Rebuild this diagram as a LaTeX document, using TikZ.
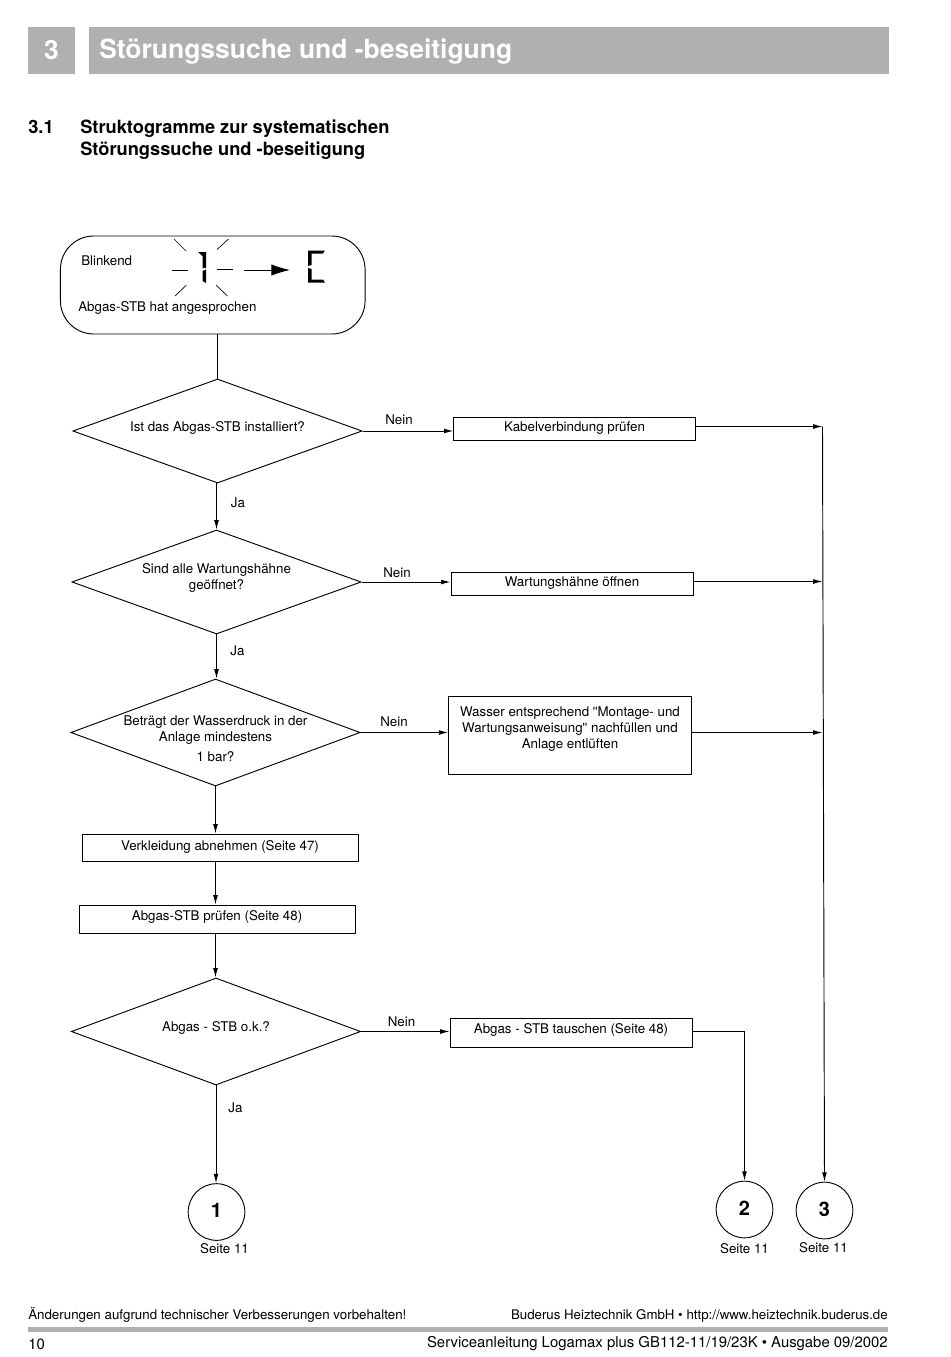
\documentclass[tikz,border=0pt]{standalone}
\usepackage{fontspec}
\setmainfont{TeX Gyre Heros}
\newfontfamily\geradefont{Liberation Sans}
\newcommand{\geradequote}{{\geradefont\symbol{34}}}
\usetikzlibrary{arrows.meta}
\usetikzlibrary{shapes.geometric}
\tikzset{>={Latex[length=7pt,width=3.6pt]}}
\definecolor{headgrey}{HTML}{B0B0B0}
\tikzset{
  flowline/.style={->, draw=black, line width=0.7pt},
  senk/.style={text height=2*#1, text depth=0pt},
  txt/.style={inner sep=0pt, font=\fontsize{10}{12}\selectfont, align=center},
  txtl/.style={txt, anchor=west, align=left},
  footl/.style={txt, font=\fontsize{11.17}{13}\selectfont},
  frage/.style={diamond, draw=black, line width=0.7pt, txt, shape aspect=2.75, minimum width=217pt, minimum height=78pt},
  kasten/.style={rectangle, draw=black, line width=0.7pt, txt},
  kreis/.style={circle, draw=black, line width=0.7pt, minimum size=42.5pt, inner sep=0pt, text height=9pt, text depth=0.5pt, font=\fontsize{15}{18}\selectfont\bfseries},
  balken/.style={rectangle, fill=headgrey, draw=none, inner sep=0pt, text=white},
  seg/.style={fill=black, draw=none}
}
\begin{document}
\begin{tikzpicture}[x=0.75pt, y=-0.75pt]
\useasboundingbox (0, 0) rectangle (950, 1357);
% kopf
\node [balken, minimum width=35.25pt, minimum height=35.25pt, font=\fontsize{19.85}{24}\selectfont\bfseries] (kapnr) at (51.5, 50.5) {3};
\node [balken, minimum width=600pt, minimum height=35.25pt] (kapbar) at (488.5, 50.5) {};
\node [txtl, text=white, font=\fontsize{19.85}{24}\selectfont\bfseries] (kaptitel) at (99, 51.5) {Störungssuche und -beseitigung};
\node [txtl, font=\fontsize{13.7}{16.5}\selectfont\bfseries] (abnr) at (28, 126.5) {3.1};
\node [txtl, font=\fontsize{13.7}{16.5}\selectfont\bfseries] (abtitel) at (80, 140) {Struktogramme zur systematischen\\Störungssuche und -beseitigung};
% start
\node [rectangle, rounded corners=25pt, draw=black, line width=0.7pt, minimum width=228.5pt, minimum height=73.5pt] (start) at (212.75, 285) {};
\node [txtl] (blink) at (81, 261) {Blinkend};
\node [txtl] (stb) at (78, 307.5) {Abgas-STB hat angesprochen};
% anzeige
\draw [line width=0.5pt] (174, 239) -- (186, 251);
\draw [line width=0.5pt] (228.5, 239) -- (217, 249.5);
\draw [line width=0.5pt] (171.5, 270) -- (187.5, 270);
\draw [line width=0.5pt] (217, 269.5) -- (233, 269.5);
\draw [line width=0.5pt] (186.5, 285) -- (175, 296);
\draw [line width=0.5pt] (216, 285) -- (227.5, 296);
\fill [seg] (198, 252) -- (206, 252) -- (206, 268) -- (202.5, 268) -- (202.5, 256) -- cycle;
\fill [seg] (202.5, 271) -- (206, 269.5) -- (206, 283) -- (202.5, 281) -- cycle;
\coordinate (pfeilA) at (244, 270);
\coordinate (pfeilB) at (290, 270);
\draw [-{Latex[length=14pt,width=8.5pt]}, line width=0.7pt] (pfeilA) -- (pfeilB);
\fill [seg] (308, 250.5) -- (325, 250.5) -- (323, 253.5) -- (311.5, 253.5) -- (311.5, 265) -- (308, 266) -- cycle;
\fill [seg] (308, 268) -- (311.5, 269) -- (311.5, 279.5) -- (323, 279.5) -- (325, 282.5) -- (308, 282.5) -- cycle;
% flussdiagramm
\node [frage, senk=0pt] (F1) at (217.5, 431) {Ist das Abgas-STB installiert?};
\node [frage, senk=5.25pt] (F2) at (216.5, 582) {Sind alle Wartungshähne\\geöffnet?};
\node [frage, minimum height=80.25pt, senk=21.75pt, inner sep=-25pt] (F3) at (215.5, 732.5) {Beträgt der Wasserdruck in der\\Anlage mindestens\\[3pt]1 bar?};
\node [frage, minimum height=80.25pt, senk=0pt] (F4) at (216, 1031.5) {Abgas - STB o.k.?};
\node [kasten, minimum width=181pt, minimum height=17.25pt, senk=1.9pt] (B1) at (574.5, 428.5) {Kabelverbindung prüfen};
\node [kasten, minimum width=181.5pt, minimum height=17.25pt, senk=2.6pt] (B2) at (572, 583.5) {Wartungshähne öffnen};
\node [kasten, minimum width=182pt, minimum height=58.5pt, senk=10pt] (B3) at (570, 735) {Wasser entsprechend \geradequote Montage- und\\Wartungsanweisung\geradequote{} nachfüllen und\\Anlage entlüften};
\node [kasten, minimum width=207pt, minimum height=20.25pt, senk=2.25pt] (B4) at (220, 847.5) {Verkleidung abnehmen (Seite 47)};
\node [kasten, minimum width=207pt, minimum height=21pt, senk=0.75pt] (B5) at (217, 919) {Abgas-STB prüfen (Seite 48)};
\node [kasten, minimum width=181.5pt, minimum height=21.75pt, senk=0.75pt] (B6) at (571, 1032.5) {Abgas - STB tauschen (Seite 48)};
\node [kreis] (K1) at (216.5, 1212) {1};
\node [kreis] (K2) at (744.5, 1209.5) {2};
\node [kreis] (K3) at (824.5, 1210.5) {3};
\coordinate (sammel) at (822.5, 426.5);
\draw [line width=0.7pt] (start.south -| F1.north) -- (F1.north);
\draw [flowline] (F1.south -| F2.north) -- (F2.north);
\draw [flowline] (F2.south) -- (F3.north -| F2.south);
\draw [flowline] (F3.south) -- (B4.north -| F3.south);
\draw [flowline] (B4.south -| F3.south) -- (B5.north -| F3.south);
\draw [flowline] (B5.south -| F3.south) -- (F4.north -| F3.south);
\draw [flowline] (F4.south) -- (K1.north -| F4.south);
\draw [flowline] (F1.east) -- (F1.east -| B1.west);
\draw [flowline] (F2.east) -- (F2.east -| B2.west);
\draw [flowline] (F3.east) -- (F3.east -| B3.west);
\draw [flowline] (F4.east) -- (F4.east -| B6.west);
\draw [flowline] (B1.east |- sammel) -- (sammel);
\draw [flowline] (B2.east |- 0, 581.5) -- (822.5, 581.5);
\draw [flowline] (B3.east |- F3.east) -- (F3.east -| sammel);
\draw [flowline] (sammel) -- (K3.north);
\draw [flowline] (B6.east |- F4.east) -- (F4.east -| K2.north) -- (K2.north);
% beschriftung
\node [txt] (n1) at (399, 420) {Nein};
\node [txt] (j1) at (238, 503) {Ja};
\node [txt] (n2) at (397, 573) {Nein};
\node [txt] (j2) at (237.5, 651) {Ja};
\node [txt] (n3) at (394, 722) {Nein};
\node [txt] (n4) at (401.5, 1022) {Nein};
\node [txt] (j3) at (235.5, 1108) {Ja};
\node [txt] (s1) at (224.5, 1248.5) {Seite 11};
\node [txt] (s2) at (744.5, 1248.5) {Seite 11};
\node [txt] (s3) at (823.5, 1248) {Seite 11};
% fuss
\node [txtl] (fussA) at (28, 1315) {Änderungen aufgrund technischer Verbesserungen vorbehalten!};
\node [txt, anchor=east, font=\fontsize{9.95}{12}\selectfont] (fussB) at (888, 1315.5) {Buderus Heiztechnik GmbH • http://www.heiztechnik.buderus.de};
\node [balken, minimum width=645pt, minimum height=3.5pt] (fussbar) at (458, 1329.5) {};
\node [footl, anchor=west] (seite) at (28, 1344) {10};
\node [footl, anchor=east] (fussC) at (888, 1344) {Serviceanleitung Logamax plus GB112-11/19/23K • Ausgabe 09/2002};
\end{tikzpicture}
\end{document}
